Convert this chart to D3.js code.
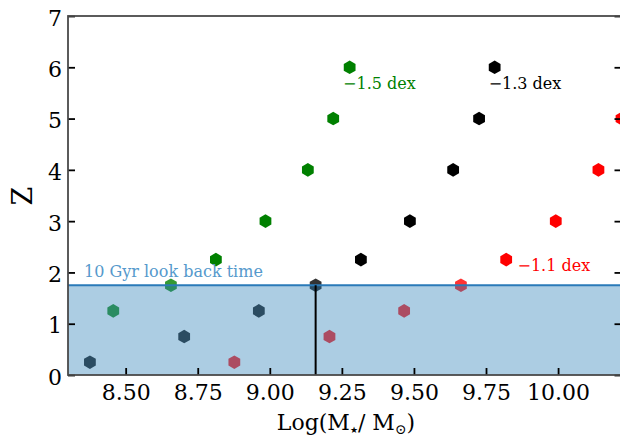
<!DOCTYPE html>
<html>
<head>
<meta charset="utf-8">
<script src="https://cdn.jsdelivr.net/npm/d3@7"></script>
<style>
	body { margin: 0; background: #fff; }
	svg { display: block; font-family: "DejaVu Serif", serif; }
</style>
</head>
<body>
<div id="chart"></div>
<script>
// series: stellar mass (log) and redshift
var greenMass = [8.457, 8.657, 8.813, 8.985, 9.132, 9.220, 9.277];
var greenZ    = [1.25, 1.75, 2.25, 3, 4, 5, 6];
var blackMass = [8.376, 8.703, 8.962, 9.159, 9.316, 9.486, 9.636, 9.726, 9.780];
var blackZ    = [0.25, 0.75, 1.25, 1.75, 2.25, 3, 4, 5, 6];
var redMass   = [8.877, 9.207, 9.466, 9.663, 9.820, 9.992, 10.140, 10.220];
var redZ      = [0.25, 0.75, 1.25, 1.75, 2.25, 3, 4, 5];
var xTicks = [8.5, 8.75, 9.0, 9.25, 9.5, 9.75, 10.0];
var yTicks = [0, 1, 2, 3, 4, 5, 6, 7];
var lookBackZ = 1.75;
var lookBackMass = 9.159;

var width = 620, height = 437;
var plotLeft = 68, plotTop = 16, plotRight = 621.5, plotBottom = 375;

var svg = d3.select("#chart").append("svg")
	.attr("width", width)
	.attr("height", height);

var x = d3.scaleLinear().domain([8.3, 10.22]).range([plotLeft, plotRight]);
var y = d3.scaleLinear().domain([0, 7]).range([plotBottom, plotTop]);

function hexagon (r) {
	var pts = d3.range(6).map(function (i) {
		var a = Math.PI / 2 + i * Math.PI / 3;
		return [r * Math.cos(a), r * Math.sin(a)];
	});
	return d3.line()(pts) + "Z";
}
var hex = hexagon(6.8);

var plot = svg.append("g");

function drawSeries (mass, z, color) {
	plot.selectAll(null)
		.data(d3.zip(mass, z))
		.enter().append("path")
		.attr("d", hex)
		.attr("transform", function (d) { return "translate(" + x(d[0]) + "," + y(d[1]) + ")"; })
		.attr("fill", color)
		// the points inside the shaded band look a bit washed out
		.attr("fill-opacity", function (d) { return d[1] <= lookBackZ ? 0.8 : 1; });
}
drawSeries(greenMass, greenZ, "#008000");
drawSeries(blackMass, blackZ, "#000000");
drawSeries(redMass, redZ, "#ff0000");

// shaded region below the look back redshift
plot.append("rect")
	.attr("x", plotLeft)
	.attr("y", y(lookBackZ))
	.attr("width", plotRight - plotLeft)
	.attr("height", y(0) - y(lookBackZ))
	.attr("fill", "#1f77b4")
	.attr("fill-opacity", 0.37);

plot.append("line")
	.attr("x1", plotLeft).attr("x2", plotRight)
	.attr("y1", y(lookBackZ)).attr("y2", y(lookBackZ))
	.attr("stroke", "#2a7ab8")
	.attr("stroke-width", 2);

plot.append("line")
	.attr("x1", x(lookBackMass)).attr("x2", x(lookBackMass))
	.attr("y1", y(0)).attr("y2", y(lookBackZ))
	.attr("stroke", "#000")
	.attr("stroke-width", 2);

// annotations
svg.append("text")
	.attr("x", 84).attr("y", 277)
	.attr("font-size", 16)
	.attr("fill", "#5599cc")
	.text("10 Gyr look back time");

var notes = [
	{ t: "\u22121.5 dex", x: 9.275, z: 5.55, c: "#008000" },
	{ t: "\u22121.3 dex", x: 9.78, z: 5.55, c: "#000000" },
	{ t: "\u22121.1 dex", x: 9.88, z: 2.0, c: "#ff0000" }
];
svg.selectAll(null)
	.data(notes)
	.enter().append("text")
	.attr("x", function (d) { return x(d.x) - 6; })
	.attr("y", function (d) { return y(d.z) - 1; })
	.attr("font-size", 16)
	.attr("fill", function (d) { return d.c; })
	.text(function (d) { return d.t; });

// axes, ticks pointing inward
var xAxis = svg.append("g")
	.attr("transform", "translate(0," + plotBottom + ")")
	.call(d3.axisBottom(x).tickValues(xTicks).tickFormat(d3.format(".2f")).tickSize(-7).tickPadding(9));
var yAxis = svg.append("g")
	.attr("transform", "translate(" + plotLeft + ",0)")
	.call(d3.axisLeft(y).tickValues(yTicks).tickFormat(d3.format("d")).tickSize(-7).tickPadding(6));
var yAxisR = svg.append("g")
	.attr("transform", "translate(" + plotRight + ",0)")
	.call(d3.axisRight(y).tickValues(yTicks).tickFormat("").tickSize(-7));

[xAxis, yAxis, yAxisR].forEach(function (g) {
	g.select(".domain").remove();
	g.selectAll(".tick line").attr("stroke", "#000").attr("stroke-width", 1.8);
	g.selectAll(".tick text")
		.attr("font-family", "DejaVu Serif")
		.attr("font-size", 22)
		.attr("fill", "#000");
});
yAxis.selectAll(".tick text").attr("dy", "0.42em");

// spines
svg.append("rect")
	.attr("x", plotLeft).attr("y", plotTop)
	.attr("width", plotRight - plotLeft).attr("height", plotBottom - plotTop)
	.attr("fill", "none")
	.attr("stroke", "#4a4a4a")
	.attr("stroke-width", 1.8);

// axis labels
var xl = svg.append("text")
	.attr("x", 346).attr("y", 430)
	.attr("text-anchor", "middle")
	.attr("font-size", 22)
	.attr("fill", "#000");
xl.append("tspan").text("Log(M");
xl.append("tspan").attr("font-size", 9).attr("dy", 3).text("\u2605");
xl.append("tspan").attr("dy", -3).text("/ M");
xl.append("tspan").attr("font-size", 14).attr("dy", 4).text("\u2299");
xl.append("tspan").attr("dy", -4).text(")");

svg.append("text")
	.attr("transform", "translate(32,196) rotate(-90)")
	.attr("text-anchor", "middle")
	.attr("font-size", 27)
	.attr("fill", "#000")
	.text("Z");
</script>
</body>
</html>
